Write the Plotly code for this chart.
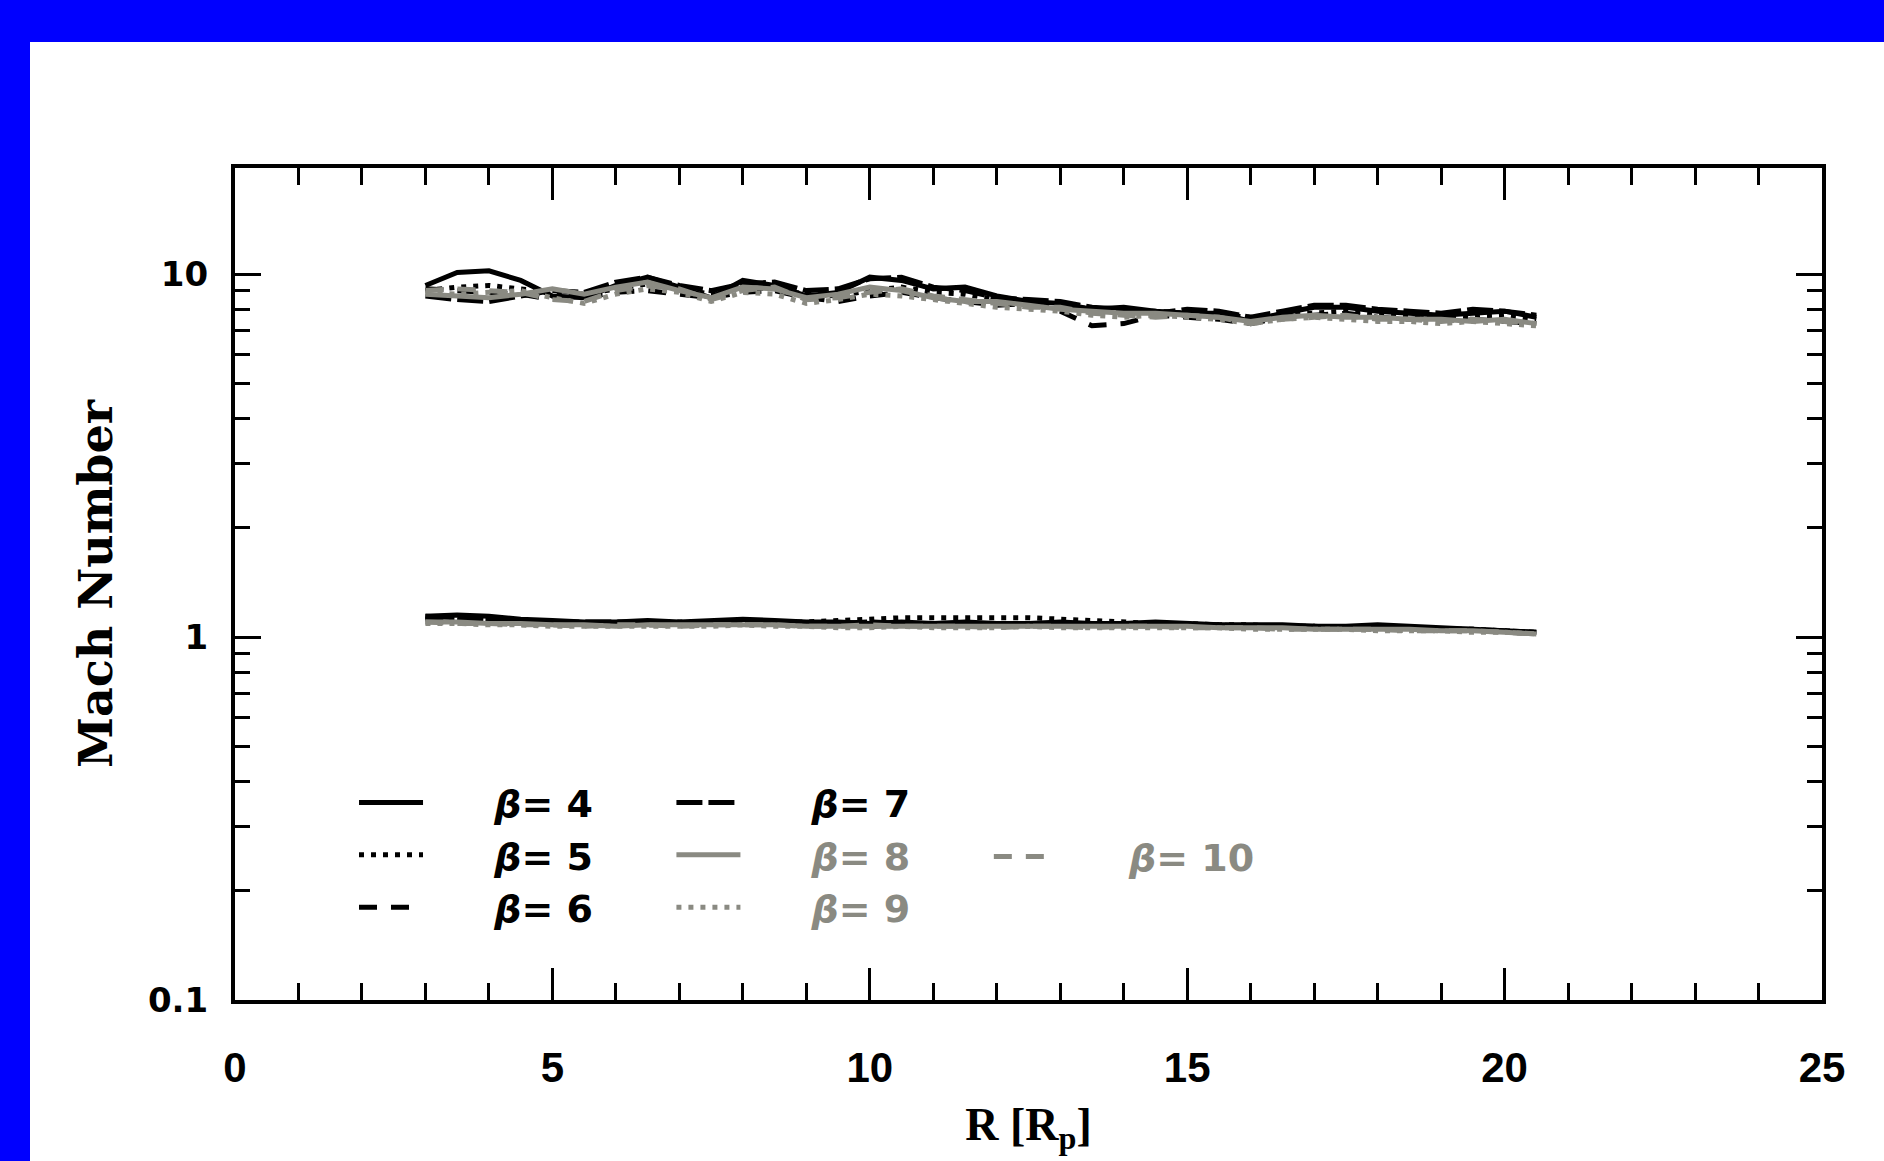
import plotly.graph_objects as go

# ---------------- data ----------------
R_GRID = [3.0, 3.5, 4.0, 4.5, 5.0, 5.5, 6.0, 6.5, 7.0, 7.5, 8.0, 8.5,
          9.0, 9.5, 10.0, 10.5, 11.0, 11.5, 12.0, 12.5, 13.0, 13.5, 14.0, 14.5,
          15.0, 15.5, 16.0, 16.5, 17.0, 17.5, 18.0, 18.5, 19.0, 19.5, 20.0, 20.5]

BETAS = ["4", "5", "6", "7", "8", "9", "10"]

# upper (fast) branch of Mach number
UPPER_B4 = [9.3, 10.1, 10.2, 9.6, 8.7, 8.6, 9.3, 9.8, 9.2, 8.6, 9.6, 9.3,
            8.7, 8.9, 9.8, 9.6, 9.1, 9.2, 8.7, 8.4, 8.3, 8.0, 8.1, 7.9,
            7.8, 7.8, 7.4, 7.8, 8.1, 8.1, 7.9, 7.8, 7.7, 7.8, 7.9, 7.6]
UPPER_B5 = [9.0, 9.2, 9.3, 9.1, 8.9, 8.8, 9.1, 9.4, 9.1, 8.8, 9.2, 9.1,
            8.8, 8.7, 9.0, 9.2, 8.9, 8.8, 8.5, 8.3, 8.2, 8.0, 7.9, 7.9,
            7.8, 7.7, 7.6, 7.7, 7.8, 7.9, 7.8, 7.7, 7.7, 7.6, 7.7, 7.5]
UPPER_B6 = [9.1, 9.0, 8.9, 8.8, 8.5, 8.6, 8.9, 9.0, 8.8, 8.6, 8.9, 9.0,
            8.6, 8.4, 8.7, 8.9, 8.6, 8.4, 8.2, 8.3, 7.9, 7.2, 7.3, 7.7,
            7.6, 7.5, 7.3, 7.6, 7.7, 7.8, 7.6, 7.5, 7.6, 7.5, 7.4, 7.3]
UPPER_B7 = [8.7, 8.5, 8.4, 8.7, 9.0, 8.9, 9.5, 9.8, 9.3, 9.0, 9.4, 9.5,
            9.0, 9.1, 9.7, 9.8, 9.2, 9.0, 8.6, 8.5, 8.4, 8.1, 8.0, 7.8,
            8.0, 7.9, 7.6, 7.9, 8.2, 8.2, 8.0, 7.9, 7.8, 8.0, 7.9, 7.7]
UPPER_B8 = [8.8, 8.7, 8.6, 8.8, 9.1, 8.8, 9.2, 9.5, 9.0, 8.6, 9.2, 9.1,
            8.6, 8.8, 9.2, 9.0, 8.6, 8.4, 8.4, 8.2, 8.0, 7.9, 7.8, 7.8,
            7.7, 7.6, 7.4, 7.6, 7.7, 7.6, 7.6, 7.5, 7.5, 7.4, 7.5, 7.3]
UPPER_B9 = [8.9, 8.8, 8.9, 9.0, 8.6, 8.3, 8.8, 9.1, 8.9, 8.4, 8.9, 8.8,
            8.3, 8.5, 8.8, 8.7, 8.5, 8.3, 8.1, 8.0, 7.9, 7.7, 7.6, 7.7,
            7.6, 7.5, 7.3, 7.5, 7.6, 7.5, 7.4, 7.4, 7.3, 7.4, 7.3, 7.2]
UPPER_B10 = [9.0, 9.1, 9.0, 8.9, 8.5, 8.4, 9.0, 9.3, 9.1, 8.5, 9.0, 9.2,
             8.5, 8.6, 8.9, 9.1, 8.7, 8.5, 8.3, 8.1, 8.1, 7.8, 7.7, 7.6,
             7.7, 7.6, 7.3, 7.5, 7.6, 7.7, 7.5, 7.5, 7.4, 7.5, 7.4, 7.3]

# lower (slow) branch of Mach number
LOWER_B4 = [1.14, 1.15, 1.14, 1.12, 1.11, 1.10, 1.10, 1.11, 1.10, 1.11, 1.12, 1.11,
            1.10, 1.10, 1.09, 1.10, 1.09, 1.10, 1.09, 1.09, 1.10, 1.09, 1.09, 1.10,
            1.09, 1.08, 1.08, 1.08, 1.07, 1.07, 1.08, 1.07, 1.06, 1.05, 1.04, 1.03]
LOWER_B5 = [1.12, 1.12, 1.11, 1.10, 1.10, 1.09, 1.09, 1.10, 1.10, 1.10, 1.10, 1.10,
            1.10, 1.11, 1.12, 1.13, 1.13, 1.13, 1.13, 1.13, 1.12, 1.11, 1.10, 1.09,
            1.09, 1.08, 1.08, 1.07, 1.07, 1.06, 1.06, 1.06, 1.05, 1.05, 1.04, 1.03]
LOWER_B6 = [1.13, 1.11, 1.10, 1.10, 1.09, 1.09, 1.09, 1.08, 1.09, 1.09, 1.10, 1.09,
            1.08, 1.08, 1.07, 1.08, 1.08, 1.07, 1.08, 1.08, 1.08, 1.08, 1.07, 1.08,
            1.08, 1.07, 1.07, 1.06, 1.06, 1.06, 1.05, 1.06, 1.05, 1.04, 1.04, 1.02]
LOWER_B7 = [1.14, 1.13, 1.12, 1.11, 1.10, 1.10, 1.10, 1.10, 1.09, 1.10, 1.11, 1.10,
            1.09, 1.09, 1.10, 1.09, 1.09, 1.08, 1.09, 1.09, 1.09, 1.08, 1.09, 1.09,
            1.08, 1.08, 1.07, 1.07, 1.07, 1.06, 1.07, 1.06, 1.05, 1.05, 1.04, 1.03]
LOWER_B8 = [1.10, 1.10, 1.09, 1.09, 1.08, 1.08, 1.07, 1.08, 1.08, 1.08, 1.08, 1.08,
            1.07, 1.07, 1.07, 1.07, 1.07, 1.07, 1.07, 1.07, 1.07, 1.07, 1.07, 1.07,
            1.07, 1.06, 1.06, 1.06, 1.05, 1.05, 1.05, 1.05, 1.04, 1.04, 1.03, 1.02]
LOWER_B9 = [1.09, 1.09, 1.08, 1.08, 1.07, 1.07, 1.07, 1.07, 1.07, 1.07, 1.08, 1.07,
            1.07, 1.06, 1.06, 1.07, 1.06, 1.06, 1.06, 1.07, 1.06, 1.06, 1.06, 1.06,
            1.06, 1.06, 1.05, 1.05, 1.05, 1.05, 1.04, 1.04, 1.04, 1.03, 1.03, 1.02]
LOWER_B10 = [1.10, 1.09, 1.09, 1.08, 1.08, 1.07, 1.08, 1.08, 1.07, 1.08, 1.08, 1.08,
             1.07, 1.07, 1.08, 1.07, 1.07, 1.07, 1.06, 1.07, 1.07, 1.06, 1.07, 1.07,
             1.06, 1.06, 1.06, 1.05, 1.05, 1.05, 1.05, 1.04, 1.04, 1.04, 1.03, 1.02]

UPPER = [UPPER_B4, UPPER_B5, UPPER_B6, UPPER_B7, UPPER_B8, UPPER_B9, UPPER_B10]
LOWER = [LOWER_B4, LOWER_B5, LOWER_B6, LOWER_B7, LOWER_B8, LOWER_B9, LOWER_B10]

X_TICKS = [0, 5, 10, 15, 20, 25]
Y_TICKS = [0.1, 1, 10]
Y_TICK_TEXT = ["0.1", "1", "10"]
Y_MINOR = [0.2, 0.3, 0.4, 0.5, 0.6, 0.7, 0.8, 0.9, 2, 3, 4, 5, 6, 7, 8, 9]

# ---------------- styles ----------------
BLACK = "#000000"
GRAY = "#8a8a82"
COLORS = [BLACK, BLACK, BLACK, BLACK, GRAY, GRAY, GRAY]
DASHES = ["solid", "5px,7px", "18px,14px", "26px,6px", "solid", "5px,7px", "18px,14px"]
LEGENDS = ["legend", "legend", "legend", "legend2", "legend2", "legend2", "legend3"]
GAP = "\u00a0" * 5

fig = go.Figure()
for beta, up, lo, col, dash, lg in zip(BETAS, UPPER, LOWER, COLORS, DASHES, LEGENDS):
    xs = list(R_GRID) + [None] + list(R_GRID)
    ys = list(up) + [None] + list(lo)
    fig.add_trace(go.Scatter(
        x=xs, y=ys, mode="lines", connectgaps=False,
        line=dict(color=col, width=5, dash=dash),
        name=f'{GAP}<span style="color:{col}"><i>β</i>= {beta}</span>',
        legend=lg,
    ))

fig.update_xaxes(
    range=[0, 25], tickvals=X_TICKS, ticktext=[str(v) for v in X_TICKS],
    showgrid=False, zeroline=False,
    showline=True, linewidth=4, linecolor="black", mirror="ticks",
    ticks="inside", ticklen=32, tickwidth=2.5, tickcolor="black",
    minor=dict(dtick=1, ticks="inside", ticklen=17, tickwidth=2.5, tickcolor="black"),
    tickfont=dict(family="Liberation Sans", size=42, color="black", weight="bold"),
    ticklabelstandoff=28,
    title=dict(text="R [R<sub>p</sub>]",
               font=dict(family="Liberation Serif", size=46, color="black", weight="bold"),
               standoff=18),
)
fig.update_yaxes(
    type="log", range=[-1, 1.292],
    tickvals=Y_TICKS, ticktext=Y_TICK_TEXT,
    showgrid=False, zeroline=False,
    showline=True, linewidth=4, linecolor="black", mirror="ticks",
    ticks="inside", ticklen=26, tickwidth=2.5, tickcolor="black",
    minor=dict(tickvals=Y_MINOR, ticks="inside", ticklen=15, tickwidth=2.5, tickcolor="black"),
    tickfont=dict(family="DejaVu Sans", size=34, color="black", weight="bold"),
    ticklabelstandoff=16,
    title=dict(text="Mach Number",
               font=dict(family="DejaVu Serif", size=46, color="black", weight="bold"),
               standoff=22),
)

leg_common = dict(bgcolor="rgba(0,0,0,0)", borderwidth=0, itemwidth=64,
                  font=dict(family="DejaVu Sans", size=38, color="black", weight="bold"),
                  xanchor="left", yanchor="top", tracegroupgap=0,
                  itemclick=False, itemdoubleclick=False)

fig.update_layout(
    width=1884, height=1161,
    margin=dict(l=235, r=62, t=168, b=161),
    paper_bgcolor="white", plot_bgcolor="white",
    showlegend=True,
    legend=dict(x=0.075, y=0.275, **leg_common),
    legend2=dict(x=0.275, y=0.275, **leg_common),
    legend3=dict(x=0.475, y=0.21, **leg_common),
    shapes=[
        dict(type="rect", xref="paper", yref="paper", x0=-0.2, x1=1.1,
             y0=(1000 - 42) / 832, y1=1.3, fillcolor="#0000ff", line=dict(width=0), layer="above"),
        dict(type="rect", xref="paper", yref="paper", x0=-0.2, x1=(30 - 235) / 1587,
             y0=-0.3, y1=1.3, fillcolor="#0000ff", line=dict(width=0), layer="above"),
    ],
)

fig.write_html("out.html",
               config={"displayModeBar": False},
               post_script="document.body.style.margin='0px';document.body.style.overflow='hidden';")
